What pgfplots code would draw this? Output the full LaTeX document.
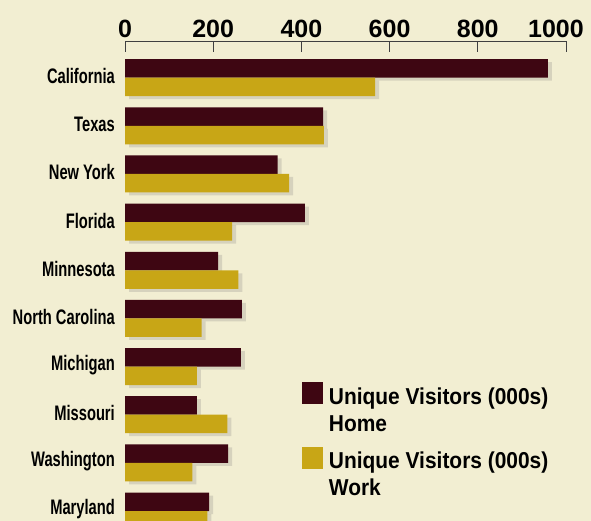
\documentclass[border=0pt]{standalone}
\usepackage{fontspec}
\setmainfont{Liberation Sans}
\newfontfamily\condfont{Liberation Sans}[UprightFont={* Bold}, FakeStretch=0.70]
\newfontfamily\legfont{Liberation Sans}[UprightFont={* Bold}, FakeStretch=0.91]
\usepackage{pgfplots}
\pgfplotsset{compat=1.18}
\definecolor{bgc}{RGB}{242,238,210}
\definecolor{home}{RGB}{62,6,18}
\definecolor{work}{RGB}{200,166,22}
\pgfplotsset{myleg/.style={legend image code/.code={\fill[##1] (0bp,-8bp) rectangle (21bp,14bp);}}}
\begin{document}
\begin{tikzpicture}
\useasboundingbox (0,0) rectangle (591bp,-521bp);
\fill[bgc] (0,0) rectangle (591bp,-521bp);
\begin{axis}[
  at={(125bp,-41bp)}, anchor=north west,
  scale only axis, width=441bp, height=480bp,
  xmin=0, xmax=1000, ymin=-0.207, ymax=9.762,
  axis x line*=top, axis y line*=left,
  y axis line style={draw=none},
  x axis line style={draw=black!75, line width=0.8bp},
  xtick={0,200,400,600,800,1000},
  xticklabels={0,200,400,600,800,\hspace*{-20bp}1000},
  xtick align=inside,
  major x tick style={draw=black!75, line width=0.8bp},
  major tick length=11bp,
  ytick={0,...,9},
  yticklabels={Maryland,Washington,Missouri,Michigan,North Carolina,Minnesota,Florida,New York,Texas,California},
  major y tick style={draw=none},
  /pgf/number format/assume math mode=true,
  xticklabel style={font=\fontsize{25bp}{25bp}\selectfont\bfseries, inner sep=0pt, yshift=3bp},
  yticklabel style={font=\condfont\fontsize{21bp}{21bp}\selectfont, inner sep=0pt, xshift=1bp, yshift=1.5bp},
  xbar, bar width=18.5bp,
  clip=true,
  legend style={at={(rel axis cs:0.4007,0.289)}, anchor=north west, draw=none, fill=none,
    inner sep=0pt, row sep=39bp, column sep=4bp,
    font=\legfont\fontsize{23bp}{27bp}\selectfont,
    cells={anchor=west}},
  legend cell align=left,
]
% shadows
\addplot[forget plot, draw=none, fill=black!55, opacity=0.22, bar shift=6.25bp, xshift=4bp] coordinates {
(191,0) (234,1) (163,2) (263,3) (265,4) (211,5) (408,6) (346,7) (449,8) (959,9)};
\addplot[forget plot, draw=none, fill=black!55, opacity=0.22, bar shift=-12.25bp, xshift=4bp] coordinates {
(187,0) (153,1) (232,2) (163,3) (174,4) (257,5) (243,6) (372,7) (451,8) (567,9)};
% data
\addplot[draw=none, fill=home, bar shift=9.25bp, myleg] coordinates {
(191,0) (234,1) (163,2) (263,3) (265,4) (211,5) (408,6) (346,7) (449,8) (959,9)};
\addlegendentry{\parbox[t]{260bp}{Unique Visitors (000s)\\Home}}
\addplot[draw=none, fill=work, bar shift=-9.25bp, myleg] coordinates {
(187,0) (153,1) (232,2) (163,3) (174,4) (257,5) (243,6) (372,7) (451,8) (567,9)};
\addlegendentry{\parbox[t]{260bp}{Unique Visitors (000s)\\Work}}
\end{axis}
\end{tikzpicture}
\end{document}
